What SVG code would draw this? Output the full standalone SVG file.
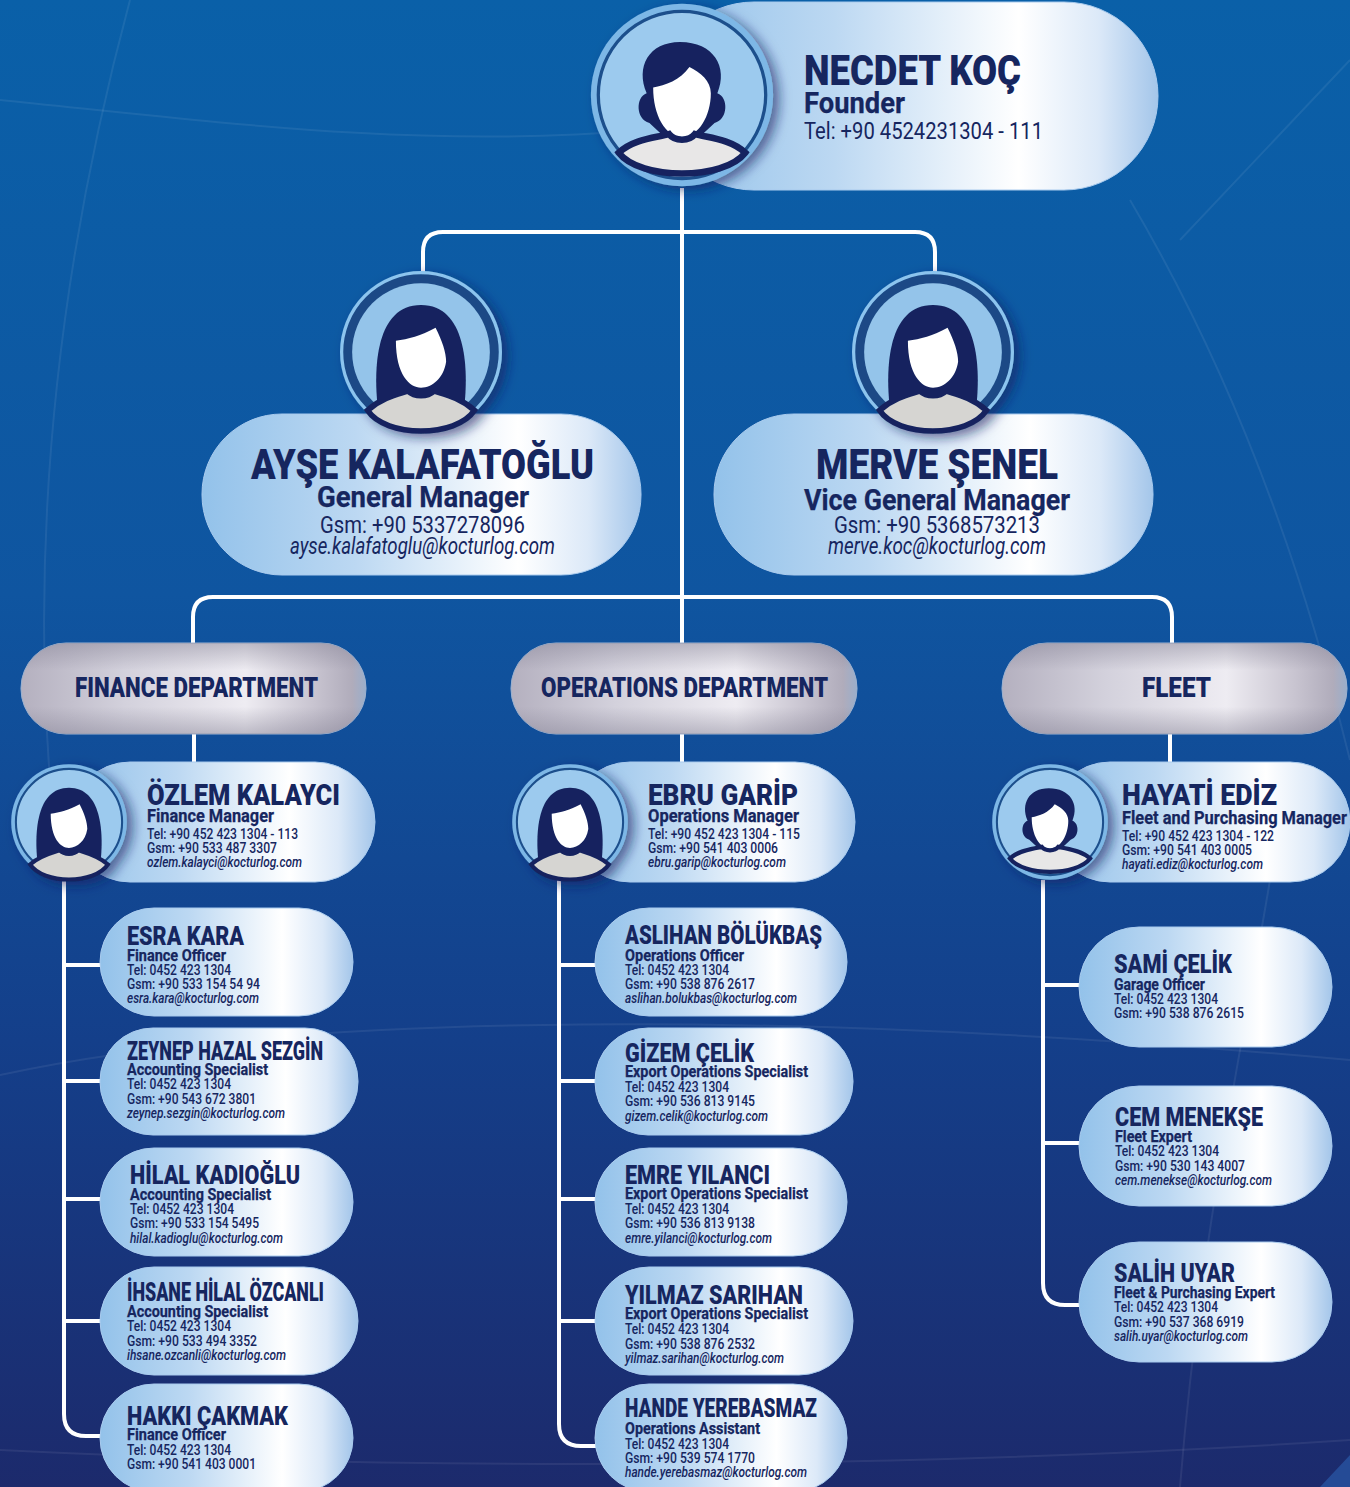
<svg xmlns="http://www.w3.org/2000/svg" width="1350" height="1487" viewBox="0 0 1350 1487">
<style>
text{font-family:Roboto,"Liberation Sans",sans-serif;fill:#16265f;stroke:none}
.n{font-weight:900}
.r{font-weight:700;stroke:#16265f;stroke-width:.25px}
.t{font-weight:400}
.e{font-weight:400;font-style:italic}
.n1{font-size:43px}.r1{font-size:30px}.t1{font-size:23px}
.d{font-weight:900;font-size:27px}
.n2{font-size:29px}.r2{font-size:18px}.t2{font-size:14px;font-weight:500}
.n3{font-size:26px}.r3{font-size:16px}.t3{font-size:14px;font-weight:500}
.c{fill:none;stroke:#fff;stroke-width:4}
.g{fill:none;stroke:#fff;stroke-opacity:.07;stroke-width:2}
.p{fill:url(#pill);stroke:#a9cbee;stroke-width:1}
.s{fill:url(#silver);stroke:#9db2d0;stroke-width:1}
.v{fill:url(#silverv)}
</style>
<defs>
<linearGradient id="bg" x1="0" y1="0" x2="0" y2="1">
<stop offset="0" stop-color="#0a60a8"/><stop offset=".4" stop-color="#0f55a0"/><stop offset=".7" stop-color="#143f8a"/><stop offset="1" stop-color="#1c2a6c"/>
</linearGradient>
<linearGradient id="pill" x1="0" y1="0" x2="1" y2="0">
<stop offset="0" stop-color="#93c2ea"/><stop offset=".35" stop-color="#bcd8f2"/><stop offset=".72" stop-color="#ffffff"/><stop offset=".88" stop-color="#dce9f8"/><stop offset="1" stop-color="#a4c6ea"/>
</linearGradient>
<linearGradient id="silver" x1="0" y1="0" x2="1" y2="0">
<stop offset="0" stop-color="#b4b0bf"/><stop offset=".3" stop-color="#d3d1dc"/><stop offset=".65" stop-color="#eeecf2"/><stop offset=".85" stop-color="#c8c4d0"/><stop offset=".96" stop-color="#b0acbb"/><stop offset="1" stop-color="#9aaecb"/>
</linearGradient>
<linearGradient id="silverv" x1="0" y1="0" x2="0" y2="1">
<stop offset="0" stop-color="#827f92" stop-opacity=".45"/><stop offset=".3" stop-color="#827f92" stop-opacity="0"/><stop offset=".7" stop-color="#827f92" stop-opacity="0"/><stop offset="1" stop-color="#827f92" stop-opacity=".45"/>
</linearGradient>
<filter id="sh" x="-30%" y="-30%" width="170%" height="170%"><feDropShadow dx="6" dy="4" stdDeviation="6" flood-color="#14245f" flood-opacity=".6"/></filter>
<symbol id="ring" viewBox="-100 -100 200 200" overflow="visible">
<circle r="98" fill="#7db7e6"/><circle r="90" fill="#9ccaee" stroke="#1d4f8c" stroke-width="3.5"/>
</symbol>
<symbol id="ring2" viewBox="-100 -100 200 200" overflow="visible">
<circle r="98" fill="#1c4a86" stroke="#8cc4ee" stroke-width="4"/><circle r="85" fill="#94c4ea"/>
</symbol>
<symbol id="male" viewBox="-100 -100 200 200" overflow="visible">
<use href="#ring" x="-100" y="-100" width="200" height="200"/>
<path fill="#14245f" d="M-38,-2C-50,-30-36,-57 -2,-57C34,-57 50,-30 38,-2C50,2 50,26 35,30L20,44H-20L-35,30C-50,26-50,2-38,-2Z"/>
<path fill="#fff" d="M-31,-8C-18,-10-2,-16 8,-30C20,-24 31,-15 31,-2C31,22 18,45 0,45C-18,45-31,22-31,-8Z"/>
<path fill="#e8e7e7" stroke="#14245f" stroke-width="7" d="M-68,62C-52,47-28,46-14,42C-8,50 8,50 14,42C28,46 52,47 68,62C45,92-45,92-68,62Z"/>
</symbol>
<symbol id="femalebody" viewBox="-100 -100 200 200" overflow="visible">
<path fill="#14245f" d="M-54,62C-58,20-56,-58 0,-58C56,-58 58,20 54,62Z"/>
<path fill="#fff" d="M-31,-14C-16,-16 0,-20 18,-30C26,-14 31,0 31,12C28,32 14,44 0,44C-14,44-31,28-31,-14Z"/>
<path fill="#d6d5d2" stroke="#14245f" stroke-width="7" d="M-66,72C-48,56-28,52-16,48C-8,56 8,56 16,48C28,52 48,56 66,72C44,106-44,106-66,72Z"/>
</symbol>
<symbol id="female" viewBox="-100 -100 200 200" overflow="visible">
<use href="#ring" x="-100" y="-100" width="200" height="200"/>
<use href="#femalebody" x="-100" y="-100" width="200" height="200"/>
</symbol>
<symbol id="female2" viewBox="-100 -100 200 200" overflow="visible">
<use href="#ring2" x="-100" y="-100" width="200" height="200"/>
<use href="#femalebody" x="-100" y="-100" width="200" height="200"/>
</symbol>
</defs>

<rect width="1350" height="1487" fill="url(#bg)"/>
<g id="background-lines">
<path class="g" d="M130,0C60,260 20,560 60,880"/>
<path class="g" d="M0,100C200,120 420,150 640,130"/>
<path class="g" d="M0,1075C300,1010 800,1010 1350,1060"/>
<path class="g" d="M1130,200C1260,420 1320,640 1350,760"/>
<path class="g" d="M1270,880C1240,1060 1200,1240 1180,1487"/>
<path class="g" d="M1180,240L1350,60"/>
<path class="g" d="M0,1450C400,1470 900,1470 1350,1440"/>
<path d="M1350,1455V1487H1320Z" fill="#2a5aa8" opacity=".7"/>
</g>

<g id="connectors">
<path class="c" d="M682,188V648"/>
<path class="c" d="M423,285V252Q423,232 443,232H915Q935,232 935,252V285"/>
<path class="c" d="M193,648V617Q193,597 213,597H1152Q1172,597 1172,617V648"/>
<path class="c" d="M194,734V764M682,734V764M1170,734V764"/>
<path class="c" d="M64,880V1414Q64,1436 86,1436H120M64,965H117M64,1081H117M64,1199H117M64,1321H117"/>
<path class="c" d="M559,880V1424Q559,1446 581,1446H612M559,965H612M559,1081H612M559,1199H612M559,1321H612"/>
<path class="c" d="M1043,880V1283Q1043,1305 1065,1305H1096M1043,985H1096M1043,1143H1096"/>
</g>

<g id="necdet-koc">
<rect class="p" x="660" y="2" width="498" height="188" rx="94"/>
<use href="#male" x="589" y="2" width="186" height="186" filter="url(#sh)"/>
<text class="n n1" x="804" y="85" textLength="217" lengthAdjust="spacingAndGlyphs">NECDET KOÇ</text>
<text class="r r1" x="804" y="113" textLength="101" lengthAdjust="spacingAndGlyphs">Founder</text>
<text class="t t1" x="804" y="139" textLength="239" lengthAdjust="spacingAndGlyphs">Tel: +90 4524231304 - 111</text>
</g>

<g id="ayse-kalafatoglu">
<rect class="p" x="202" y="414" width="439" height="161" rx="80"/>
<use href="#female2" x="340" y="271" width="162" height="162" filter="url(#sh)"/>
<text class="n n1" x="251" y="479" textLength="343" lengthAdjust="spacingAndGlyphs">AYŞE KALAFATOĞLU</text>
<text class="r r1" x="317" y="507" textLength="212" lengthAdjust="spacingAndGlyphs">General Manager</text>
<text class="t t1" x="320" y="533" textLength="205" lengthAdjust="spacingAndGlyphs">Gsm: +90 5337278096</text>
<text class="e t1" x="290" y="554" textLength="265" lengthAdjust="spacingAndGlyphs">ayse.kalafatoglu@kocturlog.com</text>
</g>

<g id="merve-senel">
<rect class="p" x="714" y="414" width="439" height="161" rx="80"/>
<use href="#female2" x="852" y="271" width="162" height="162" filter="url(#sh)"/>
<text class="n n1" x="816" y="479" textLength="242" lengthAdjust="spacingAndGlyphs">MERVE ŞENEL</text>
<text class="r r1" x="804" y="510" textLength="266" lengthAdjust="spacingAndGlyphs">Vice General Manager</text>
<text class="t t1" x="834" y="533" textLength="206" lengthAdjust="spacingAndGlyphs">Gsm: +90 5368573213</text>
<text class="e t1" x="828" y="554" textLength="218" lengthAdjust="spacingAndGlyphs">merve.koc@kocturlog.com</text>
</g>

<g id="finance-department">
<rect class="s" x="21" y="643" width="345" height="91" rx="45"/>
<rect class="v" x="21" y="643" width="345" height="91" rx="45"/>
<text class="d" x="75" y="697" textLength="243" lengthAdjust="spacingAndGlyphs">FINANCE DEPARTMENT</text>
</g>
<g id="operations-department">
<rect class="s" x="511" y="643" width="346" height="91" rx="45"/>
<rect class="v" x="511" y="643" width="346" height="91" rx="45"/>
<text class="d" x="541" y="697" textLength="287" lengthAdjust="spacingAndGlyphs">OPERATIONS DEPARTMENT</text>
</g>
<g id="fleet">
<rect class="s" x="1002" y="643" width="345" height="91" rx="45"/>
<rect class="v" x="1002" y="643" width="345" height="91" rx="45"/>
<text class="d" x="1142" y="697" textLength="69" lengthAdjust="spacingAndGlyphs">FLEET</text>
</g>

<g id="ozlem-kalayci">
<rect class="p" x="70" y="762" width="305" height="120" rx="60"/>
<use href="#female" x="10" y="763" width="118" height="118" filter="url(#sh)"/>
<text class="n n2" x="147" y="805" textLength="193" lengthAdjust="spacingAndGlyphs">ÖZLEM KALAYCI</text>
<text class="r r2" x="147" y="822" textLength="127" lengthAdjust="spacingAndGlyphs">Finance Manager</text>
<text class="t t2" x="147" y="839" textLength="151" lengthAdjust="spacingAndGlyphs">Tel: +90 452 423 1304 - 113</text>
<text class="t t2" x="147" y="853" textLength="130" lengthAdjust="spacingAndGlyphs">Gsm: +90 533 487 3307</text>
<text class="e t2" x="147" y="867" textLength="155" lengthAdjust="spacingAndGlyphs">ozlem.kalayci@kocturlog.com</text>
</g>
<g id="ebru-garip">
<rect class="p" x="570" y="762" width="285" height="120" rx="60"/>
<use href="#female" x="511" y="763" width="118" height="118" filter="url(#sh)"/>
<text class="n n2" x="648" y="805" textLength="150" lengthAdjust="spacingAndGlyphs">EBRU GARİP</text>
<text class="r r2" x="648" y="822" textLength="151" lengthAdjust="spacingAndGlyphs">Operations Manager</text>
<text class="t t2" x="648" y="839" textLength="152" lengthAdjust="spacingAndGlyphs">Tel: +90 452 423 1304 - 115</text>
<text class="t t2" x="648" y="853" textLength="130" lengthAdjust="spacingAndGlyphs">Gsm: +90 541 403 0006</text>
<text class="e t2" x="648" y="867" textLength="138" lengthAdjust="spacingAndGlyphs">ebru.garip@kocturlog.com</text>
</g>
<g id="hayati-ediz">
<rect class="p" x="1050" y="762" width="300" height="120" rx="60"/>
<use href="#male" x="991" y="763" width="118" height="118" filter="url(#sh)"/>
<text class="n n2" x="1122" y="805" textLength="155" lengthAdjust="spacingAndGlyphs">HAYATİ EDİZ</text>
<text class="r r2" x="1122" y="824" textLength="225" lengthAdjust="spacingAndGlyphs">Fleet and Purchasing Manager</text>
<text class="t t2" x="1122" y="841" textLength="152" lengthAdjust="spacingAndGlyphs">Tel: +90 452 423 1304 - 122</text>
<text class="t t2" x="1122" y="855" textLength="130" lengthAdjust="spacingAndGlyphs">Gsm: +90 541 403 0005</text>
<text class="e t2" x="1122" y="869" textLength="141" lengthAdjust="spacingAndGlyphs">hayati.ediz@kocturlog.com</text>
</g>

<g id="esra-kara">
<rect class="p" x="100" y="908" width="253" height="108" rx="54"/>
<text class="n n3" x="127" y="945" textLength="117" lengthAdjust="spacingAndGlyphs">ESRA KARA</text>
<text class="r r3" x="127" y="961" textLength="99" lengthAdjust="spacingAndGlyphs">Finance Officer</text>
<text class="t t3" x="127" y="975" textLength="104" lengthAdjust="spacingAndGlyphs">Tel: 0452 423 1304</text>
<text class="t t3" x="127" y="989" textLength="133" lengthAdjust="spacingAndGlyphs">Gsm: +90 533 154 54 94</text>
<text class="e t3" x="127" y="1003" textLength="132" lengthAdjust="spacingAndGlyphs">esra.kara@kocturlog.com</text>
</g>
<g id="zeynep-hazal-sezgin">
<rect class="p" x="100" y="1028" width="258" height="107" rx="53"/>
<text class="n n3" x="127" y="1060" textLength="196" lengthAdjust="spacingAndGlyphs">ZEYNEP HAZAL SEZGİN</text>
<text class="r r3" x="127" y="1075" textLength="141" lengthAdjust="spacingAndGlyphs">Accounting Specialist</text>
<text class="t t3" x="127" y="1089" textLength="104" lengthAdjust="spacingAndGlyphs">Tel: 0452 423 1304</text>
<text class="t t3" x="127" y="1104" textLength="129" lengthAdjust="spacingAndGlyphs">Gsm: +90 543 672 3801</text>
<text class="e t3" x="127" y="1118" textLength="158" lengthAdjust="spacingAndGlyphs">zeynep.sezgin@kocturlog.com</text>
</g>
<g id="hilal-kadioglu">
<rect class="p" x="100" y="1148" width="253" height="108" rx="54"/>
<text class="n n3" x="130" y="1184" textLength="170" lengthAdjust="spacingAndGlyphs">HİLAL KADIOĞLU</text>
<text class="r r3" x="130" y="1200" textLength="141" lengthAdjust="spacingAndGlyphs">Accounting Specialist</text>
<text class="t t3" x="130" y="1214" textLength="104" lengthAdjust="spacingAndGlyphs">Tel: 0452 423 1304</text>
<text class="t t3" x="130" y="1228" textLength="129" lengthAdjust="spacingAndGlyphs">Gsm: +90 533 154 5495</text>
<text class="e t3" x="130" y="1243" textLength="153" lengthAdjust="spacingAndGlyphs">hilal.kadioglu@kocturlog.com</text>
</g>
<g id="ihsane-hilal-ozcanli">
<rect class="p" x="100" y="1267" width="258" height="108" rx="54"/>
<text class="n n3" x="127" y="1301" textLength="197" lengthAdjust="spacingAndGlyphs">İHSANE HİLAL ÖZCANLI</text>
<text class="r r3" x="127" y="1317" textLength="141" lengthAdjust="spacingAndGlyphs">Accounting Specialist</text>
<text class="t t3" x="127" y="1331" textLength="104" lengthAdjust="spacingAndGlyphs">Tel: 0452 423 1304</text>
<text class="t t3" x="127" y="1346" textLength="130" lengthAdjust="spacingAndGlyphs">Gsm: +90 533 494 3352</text>
<text class="e t3" x="127" y="1360" textLength="159" lengthAdjust="spacingAndGlyphs">ihsane.ozcanli@kocturlog.com</text>
</g>
<g id="hakki-cakmak">
<rect class="p" x="100" y="1384" width="253" height="108" rx="54"/>
<text class="n n3" x="127" y="1425" textLength="161" lengthAdjust="spacingAndGlyphs">HAKKI ÇAKMAK</text>
<text class="r r3" x="127" y="1440" textLength="99" lengthAdjust="spacingAndGlyphs">Finance Officer</text>
<text class="t t3" x="127" y="1455" textLength="104" lengthAdjust="spacingAndGlyphs">Tel: 0452 423 1304</text>
<text class="t t3" x="127" y="1469" textLength="129" lengthAdjust="spacingAndGlyphs">Gsm: +90 541 403 0001</text>
</g>

<g id="aslihan-bolukbas">
<rect class="p" x="595" y="908" width="252" height="108" rx="54"/>
<text class="n n3" x="625" y="944" textLength="197" lengthAdjust="spacingAndGlyphs">ASLIHAN BÖLÜKBAŞ</text>
<text class="r r3" x="625" y="961" textLength="119" lengthAdjust="spacingAndGlyphs">Operations Officer</text>
<text class="t t3" x="625" y="975" textLength="104" lengthAdjust="spacingAndGlyphs">Tel: 0452 423 1304</text>
<text class="t t3" x="625" y="989" textLength="130" lengthAdjust="spacingAndGlyphs">Gsm: +90 538 876 2617</text>
<text class="e t3" x="625" y="1003" textLength="172" lengthAdjust="spacingAndGlyphs">aslihan.bolukbas@kocturlog.com</text>
</g>
<g id="gizem-celik">
<rect class="p" x="595" y="1028" width="258" height="107" rx="53"/>
<text class="n n3" x="625" y="1062" textLength="129" lengthAdjust="spacingAndGlyphs">GİZEM ÇELİK</text>
<text class="r r3" x="625" y="1077" textLength="183" lengthAdjust="spacingAndGlyphs">Export Operations Specialist</text>
<text class="t t3" x="625" y="1092" textLength="104" lengthAdjust="spacingAndGlyphs">Tel: 0452 423 1304</text>
<text class="t t3" x="625" y="1106" textLength="130" lengthAdjust="spacingAndGlyphs">Gsm: +90 536 813 9145</text>
<text class="e t3" x="625" y="1121" textLength="143" lengthAdjust="spacingAndGlyphs">gizem.celik@kocturlog.com</text>
</g>
<g id="emre-yilanci">
<rect class="p" x="595" y="1148" width="252" height="108" rx="54"/>
<text class="n n3" x="625" y="1184" textLength="145" lengthAdjust="spacingAndGlyphs">EMRE YILANCI</text>
<text class="r r3" x="625" y="1199" textLength="183" lengthAdjust="spacingAndGlyphs">Export Operations Specialist</text>
<text class="t t3" x="625" y="1214" textLength="104" lengthAdjust="spacingAndGlyphs">Tel: 0452 423 1304</text>
<text class="t t3" x="625" y="1228" textLength="130" lengthAdjust="spacingAndGlyphs">Gsm: +90 536 813 9138</text>
<text class="e t3" x="625" y="1243" textLength="147" lengthAdjust="spacingAndGlyphs">emre.yilanci@kocturlog.com</text>
</g>
<g id="yilmaz-sarihan">
<rect class="p" x="595" y="1267" width="258" height="108" rx="54"/>
<text class="n n3" x="625" y="1304" textLength="178" lengthAdjust="spacingAndGlyphs">YILMAZ SARIHAN</text>
<text class="r r3" x="625" y="1319" textLength="183" lengthAdjust="spacingAndGlyphs">Export Operations Specialist</text>
<text class="t t3" x="625" y="1334" textLength="104" lengthAdjust="spacingAndGlyphs">Tel: 0452 423 1304</text>
<text class="t t3" x="625" y="1349" textLength="130" lengthAdjust="spacingAndGlyphs">Gsm: +90 538 876 2532</text>
<text class="e t3" x="625" y="1363" textLength="159" lengthAdjust="spacingAndGlyphs">yilmaz.sarihan@kocturlog.com</text>
</g>
<g id="hande-yerebasmaz">
<rect class="p" x="595" y="1384" width="252" height="108" rx="54"/>
<text class="n n3" x="625" y="1417" textLength="192" lengthAdjust="spacingAndGlyphs">HANDE YEREBASMAZ</text>
<text class="r r3" x="625" y="1434" textLength="135" lengthAdjust="spacingAndGlyphs">Operations Assistant</text>
<text class="t t3" x="625" y="1449" textLength="104" lengthAdjust="spacingAndGlyphs">Tel: 0452 423 1304</text>
<text class="t t3" x="625" y="1463" textLength="130" lengthAdjust="spacingAndGlyphs">Gsm: +90 539 574 1770</text>
<text class="e t3" x="625" y="1477" textLength="182" lengthAdjust="spacingAndGlyphs">hande.yerebasmaz@kocturlog.com</text>
</g>

<g id="sami-celik">
<rect class="p" x="1079" y="927" width="253" height="120" rx="60"/>
<text class="n n3" x="1114" y="973" textLength="118" lengthAdjust="spacingAndGlyphs">SAMİ ÇELİK</text>
<text class="r r3" x="1114" y="990" textLength="91" lengthAdjust="spacingAndGlyphs">Garage Officer</text>
<text class="t t3" x="1114" y="1004" textLength="104" lengthAdjust="spacingAndGlyphs">Tel: 0452 423 1304</text>
<text class="t t3" x="1114" y="1018" textLength="130" lengthAdjust="spacingAndGlyphs">Gsm: +90 538 876 2615</text>
</g>
<g id="cem-menekse">
<rect class="p" x="1079" y="1086" width="253" height="120" rx="60"/>
<text class="n n3" x="1115" y="1126" textLength="148" lengthAdjust="spacingAndGlyphs">CEM MENEKŞE</text>
<text class="r r3" x="1115" y="1142" textLength="77" lengthAdjust="spacingAndGlyphs">Fleet Expert</text>
<text class="t t3" x="1115" y="1156" textLength="104" lengthAdjust="spacingAndGlyphs">Tel: 0452 423 1304</text>
<text class="t t3" x="1115" y="1171" textLength="130" lengthAdjust="spacingAndGlyphs">Gsm: +90 530 143 4007</text>
<text class="e t3" x="1115" y="1185" textLength="157" lengthAdjust="spacingAndGlyphs">cem.menekse@kocturlog.com</text>
</g>
<g id="salih-uyar">
<rect class="p" x="1079" y="1242" width="253" height="120" rx="60"/>
<text class="n n3" x="1114" y="1282" textLength="121" lengthAdjust="spacingAndGlyphs">SALİH UYAR</text>
<text class="r r3" x="1114" y="1298" textLength="161" lengthAdjust="spacingAndGlyphs">Fleet &amp; Purchasing Expert</text>
<text class="t t3" x="1114" y="1312" textLength="104" lengthAdjust="spacingAndGlyphs">Tel: 0452 423 1304</text>
<text class="t t3" x="1114" y="1327" textLength="130" lengthAdjust="spacingAndGlyphs">Gsm: +90 537 368 6919</text>
<text class="e t3" x="1114" y="1341" textLength="134" lengthAdjust="spacingAndGlyphs">salih.uyar@kocturlog.com</text>
</g>
</svg>
